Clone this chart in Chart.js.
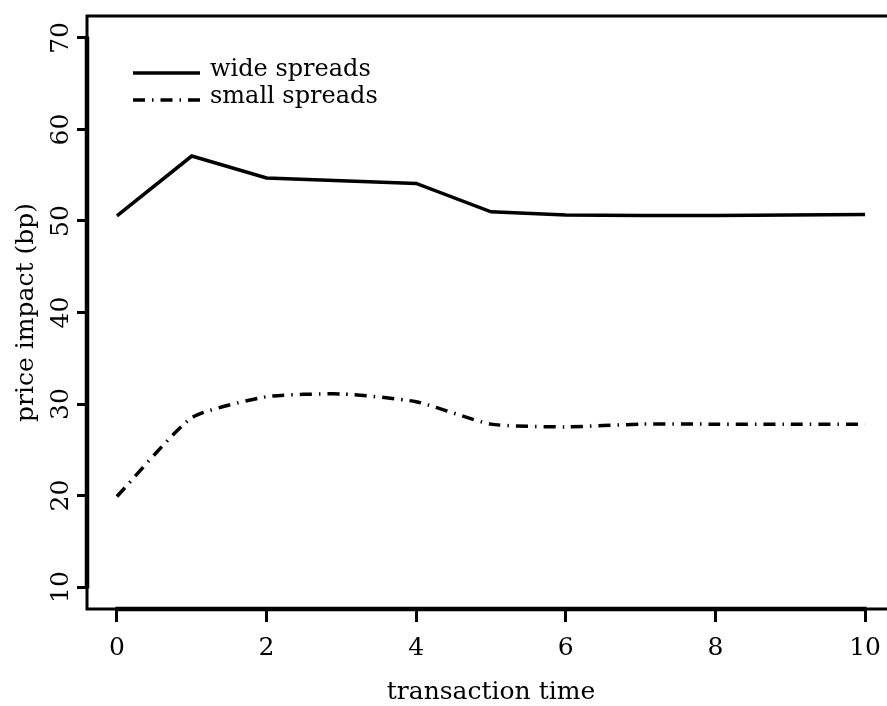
<!DOCTYPE html>
<html>
<head>
<meta charset="utf-8">
<script src="https://cdn.jsdelivr.net/npm/chart.js@4"></script>
<style>
  html, body { margin: 0; padding: 0; background: #fff; overflow: hidden; }
  #wrap { width: 887px; height: 706px; overflow: hidden; }
</style>
</head>
<body>
<div id="wrap"><canvas id="impactChart" width="900" height="706"></canvas></div>
<script>
// price impact after a trade, by transaction time
const transactionTimes = [0, 1, 2, 3, 4, 5, 6, 7, 8, 9, 10];
const wideSpreads = [50.55, 57.1, 54.7, 54.4, 54.1, 51.0, 50.65, 50.6, 50.6, 50.65, 50.7];
const smallSpreads = [19.9, 28.5, 30.8, 31.1, 30.25, 27.8, 27.5, 27.8, 27.8, 27.8, 27.8];
const seriesLabels = ['wide spreads', 'small spreads'];
const xTicks = [0, 2, 4, 6, 8, 10];
const yTicks = [10, 20, 30, 40, 50, 60, 70];

const toPoints = (ys) => ys.map((y, i) => ({ x: transactionTimes[i], y: y }));

Chart.defaults.font.family = "'DejaVu Serif', serif";
Chart.defaults.font.size = 25;
Chart.defaults.color = '#000';

// box around the plot, thick axis lines between the end ticks, and the legend inside
const framePlugin = {
    id: 'framePlugin',
    afterDraw(chart) {
        const { ctx, chartArea: a, scales } = chart;
        const xs = scales.x, ys = scales.y;
        ctx.save();
        ctx.strokeStyle = '#000';
        ctx.lineCap = 'butt';

        ctx.lineWidth = 3;
        ctx.beginPath();
        ctx.moveTo(a.right + 10, a.top);
        ctx.lineTo(a.left, a.top);
        ctx.lineTo(a.left, a.bottom);
        ctx.lineTo(a.right + 10, a.bottom);
        ctx.stroke();

        ctx.lineWidth = 4.5;
        ctx.beginPath();
        ctx.moveTo(xs.getPixelForValue(xTicks[0]) - 1.5, a.bottom);
        ctx.lineTo(xs.getPixelForValue(xTicks[xTicks.length - 1]) + 1.5, a.bottom);
        ctx.moveTo(a.left, ys.getPixelForValue(yTicks[0]) + 1.5);
        ctx.lineTo(a.left, ys.getPixelForValue(yTicks[yTicks.length - 1]) - 1.5);
        ctx.stroke();

        // legend
        const lx = a.left + 46, ly = a.top + 57, rowGap = 27;
        ctx.font = "24px 'DejaVu Serif', serif";
        ctx.fillStyle = '#000';
        ctx.textBaseline = 'alphabetic';
        chart.data.datasets.forEach((ds, i) => {
            const y = ly + i * rowGap;
            ctx.lineWidth = ds.borderWidth;
            ctx.setLineDash(ds.borderDash || []);
            ctx.lineDashOffset = 0;
            ctx.beginPath();
            ctx.moveTo(lx, y);
            ctx.lineTo(lx + 67, y);
            ctx.stroke();
            ctx.setLineDash([]);
            ctx.fillText(ds.label, lx + 77, y + 3);
        });
        ctx.restore();
    }
};

new Chart(document.getElementById('impactChart'), {
    type: 'line',
    data: {
        datasets: [
            {
                label: seriesLabels[0],
                data: toPoints(wideSpreads),
                borderColor: '#000',
                borderWidth: 3.5,
                pointRadius: 0,
                tension: 0,
                fill: false
            },
            {
                label: seriesLabels[1],
                data: toPoints(smallSpreads),
                borderColor: '#000',
                borderWidth: 3.5,
                borderDash: [12, 7, 1.5, 7],
                pointRadius: 0,
                tension: 0.18,
                fill: false
            }
        ]
    },
    options: {
        responsive: false,
        animation: false,
        layout: { padding: { top: 16, right: 5, left: 0, bottom: 0 } },
        plugins: {
            legend: { display: false },
            tooltip: { enabled: false }
        },
        scales: {
            x: {
                type: 'linear',
                min: -0.4,
                max: 10.4,
                afterBuildTicks: (s) => { s.ticks = xTicks.map(v => ({ value: v })); },
                afterFit: (s) => { s.height = 97; },
                grid: {
                    drawOnChartArea: false,
                    drawTicks: true,
                    tickLength: 13,
                    lineWidth: 3,
                    color: '#000'
                },
                border: { display: false },
                ticks: { padding: 11, maxRotation: 0, font: { size: 25 } },
                title: {
                    display: true,
                    text: 'transaction time',
                    font: { size: 25 },
                    padding: { top: 0, bottom: -1 }
                }
            },
            y: {
                type: 'linear',
                min: 7.6,
                max: 72.4,
                afterBuildTicks: (s) => { s.ticks = yTicks.map(v => ({ value: v })); },
                afterFit: (s) => { s.width = 87; },
                grid: {
                    drawOnChartArea: false,
                    drawTicks: true,
                    tickLength: 10,
                    lineWidth: 3,
                    color: '#000'
                },
                border: { display: false },
                ticks: {
                    padding: 0,
                    minRotation: 90,
                    maxRotation: 90,
                    crossAlign: 'center',
                    font: { size: 25 }
                },
                title: {
                    display: true,
                    text: 'price impact (bp)',
                    font: { size: 25 },
                    padding: { top: 11, bottom: 0 }
                }
            }
        }
    },
    plugins: [framePlugin]
});
</script>
</body>
</html>
